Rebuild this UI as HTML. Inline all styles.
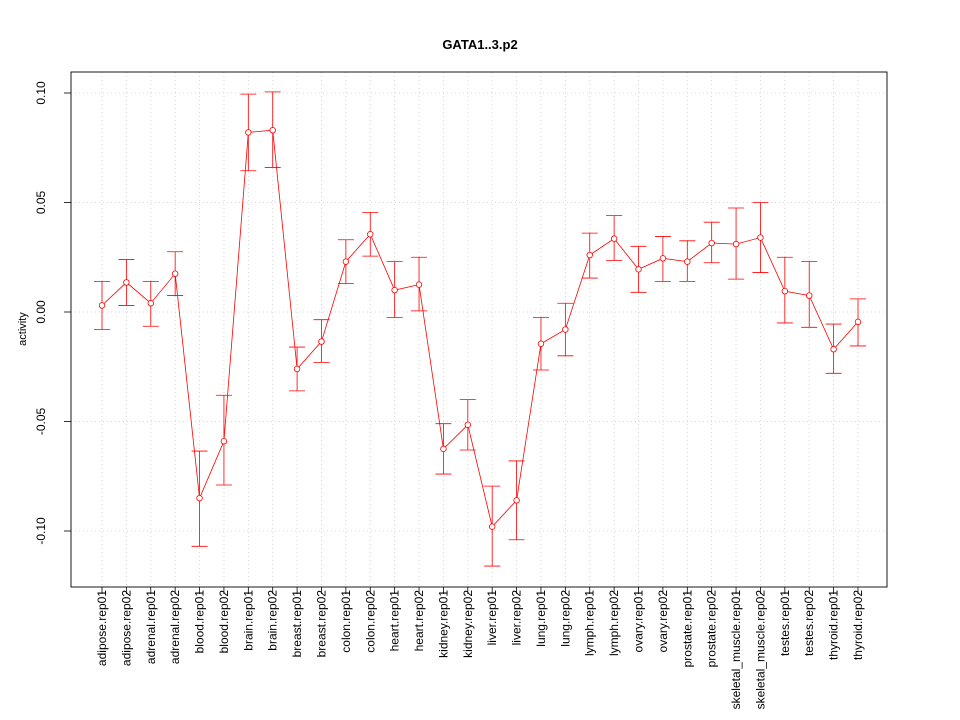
<!DOCTYPE html>
<html><head><meta charset="utf-8"><style>
body{margin:0;background:#fff}
svg{display:block;font-family:"Liberation Sans",sans-serif}
</style></head><body>
<svg id="chart" width="960" height="720">
<rect width="960" height="720" fill="#fff"/>
<text x="480" y="49" text-anchor="middle" font-weight="bold" font-size="13">GATA1..3.p2</text>
<text transform="translate(26,329) rotate(-90)" text-anchor="middle" font-size="11">activity</text>
<g id="grid"></g><g id="axes"></g><g id="marks"></g>
<rect x="71" y="72" width="816" height="515" fill="none" stroke="#000" stroke-width="0.9"/>
</svg>
<script>
const categories=["adipose.rep01","adipose.rep02","adrenal.rep01","adrenal.rep02","blood.rep01","blood.rep02","brain.rep01","brain.rep02","breast.rep01","breast.rep02","colon.rep01","colon.rep02","heart.rep01","heart.rep02","kidney.rep01","kidney.rep02","liver.rep01","liver.rep02","lung.rep01","lung.rep02","lymph.rep01","lymph.rep02","ovary.rep01","ovary.rep02","prostate.rep01","prostate.rep02","skeletal_muscle.rep01","skeletal_muscle.rep02","testes.rep01","testes.rep02","thyroid.rep01","thyroid.rep02"];
const values=[0.003,0.0135,0.004,0.0175,-0.085,-0.059,0.082,0.083,-0.026,-0.0135,0.023,0.0355,0.010,0.0125,-0.0625,-0.0515,-0.098,-0.086,-0.0145,-0.008,0.026,0.0335,0.0195,0.0245,0.023,0.0315,0.031,0.034,0.0095,0.0075,-0.017,-0.0045];
const upper=[0.014,0.024,0.014,0.0275,-0.0635,-0.038,0.0995,0.1005,-0.016,-0.0035,0.033,0.0455,0.023,0.025,-0.051,-0.040,-0.0795,-0.068,-0.0025,0.004,0.036,0.044,0.030,0.0345,0.0325,0.041,0.0475,0.050,0.025,0.023,-0.0055,0.006];
const lower=[-0.008,0.003,-0.0065,0.0075,-0.107,-0.079,0.0645,0.066,-0.036,-0.023,0.013,0.0255,-0.0025,0.0005,-0.074,-0.063,-0.116,-0.104,-0.0265,-0.020,0.0155,0.0235,0.009,0.014,0.014,0.0225,0.015,0.018,-0.005,-0.007,-0.028,-0.0155];
const yTicks=[-0.10,-0.05,0.00,0.05,0.10];
const yTickLabels=["-0.10","-0.05","0.00","0.05","0.10"];
const NS="http://www.w3.org/2000/svg";
const X=i=>102+i*(858-102)/31;
const Y=v=>312-v*2190;
function mk(p,tag,a){const e=document.createElementNS(NS,tag);for(const k in a)e.setAttribute(k,a[k]);p.appendChild(e);return e;}
const grid=document.getElementById('grid'),axes=document.getElementById('axes'),marks=document.getElementById('marks');
categories.forEach((c,i)=>{
 const g=mk(grid,'line',{x1:X(i),x2:X(i),y1:72,y2:587,stroke:'#ccc','stroke-dasharray':'1,3','stroke-width':0.8});
 
 
 const t=mk(axes,'line',{x1:X(i),x2:X(i),y1:587,y2:594,stroke:'#000','stroke-width':0.8});
 
 
 const l=mk(axes,'text',{transform:`translate(${X(i)+4},590) rotate(-90)`,'text-anchor':'end','font-size':'12'});
 l.textContent=c;
 
 
});
yTicks.forEach((v,i)=>{
 const g=mk(grid,'line',{x1:71,x2:887,y1:Y(v),y2:Y(v),stroke:'#ccc','stroke-dasharray':'1,3','stroke-width':0.8});
 
 
 const t=mk(axes,'line',{x1:64,x2:71,y1:Y(v),y2:Y(v),stroke:'#000','stroke-width':0.8});
 
 
 const l=mk(axes,'text',{transform:`translate(45,${Y(v)}) rotate(-90)`,'text-anchor':'middle','font-size':'12'});
 l.textContent=yTickLabels[i];
 
 
});
const line=mk(marks,'polyline',{points:values.map((v,i)=>X(i)+','+Y(v)).join(' '),fill:'none',stroke:'#f00','stroke-width':0.8});


values.forEach((v,i)=>{
 const x=X(i);
 const e=mk(marks,'path',{d:`M${x},${Y(upper[i])}V${Y(lower[i])}M${x-8},${Y(upper[i])}H${x+8}M${x-8},${Y(lower[i])}H${x+8}`,stroke:'#f00',fill:'none','stroke-width':0.8});
 
 
 const p=mk(marks,'circle',{cx:x,cy:Y(v),r:2.8,fill:'#fff',stroke:'#f00','stroke-width':0.8});
 
 
});
</script>
</body></html>
